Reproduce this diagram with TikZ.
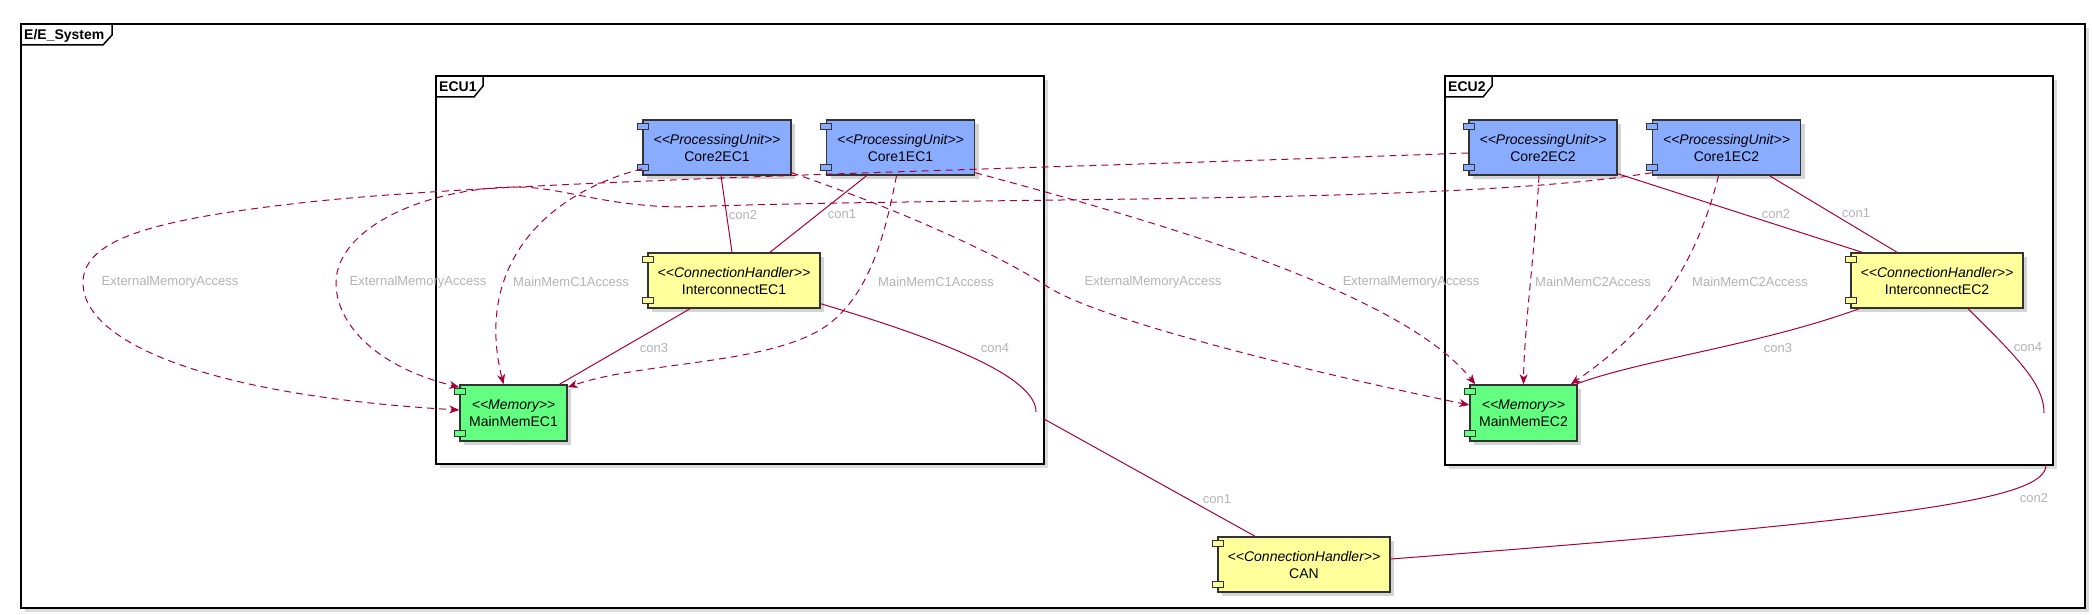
\documentclass[tikz,border=0pt]{standalone}
\usepackage{fontspec}
\setmainfont{Liberation Sans}
\usepackage{xcolor}
\usetikzlibrary{arrows.meta,positioning,shadows}

\definecolor{puBlue}{HTML}{8AACFF}
\definecolor{memGreen}{HTML}{62FF80}
\definecolor{chYellow}{HTML}{FFFF9C}
\definecolor{linkRed}{HTML}{A80036}
\definecolor{lblGray}{HTML}{B4B4B4}
\definecolor{boxLine}{HTML}{333333}

\newcommand\stereo[1]{\textit{<\kern0pt<#1>\kern0pt>}}
\newcommand\porttabs[2]{%
  \draw[porttab, fill=#2] ([shift={(-5,4)}]#1.north west) rectangle ++(11,6);
  \draw[porttab, fill=#2] ([shift={(-5,-5)}]#1.south west) rectangle ++(11,-6);}

\begin{document}
\begin{tikzpicture}[x=1pt, y=-1pt,
  cmp/.style={draw=boxLine, line width=1.5pt, minimum height=55pt, align=center, inner sep=2pt,
    font=\fontsize{14}{17}\selectfont,
    drop shadow={shadow xshift=4pt, shadow yshift=-4pt, opacity=.3, fill=black!55}},
  pu/.style={cmp, fill=puBlue, minimum width=148pt},
  mem/.style={cmp, fill=memGreen, minimum width=107pt, minimum height=56pt},
  ch/.style={cmp, fill=chYellow, minimum width=172pt},
  porttab/.style={draw=boxLine, line width=1.2pt},
  frm/.style={draw=black, line width=2pt, fill=white,
    drop shadow={shadow xshift=4pt, shadow yshift=-4pt, opacity=.25, fill=black!55}},
  tabline/.style={draw=black, line width=1.5pt},
  ttl/.style={anchor=base west, inner sep=0pt, font=\fontsize{14}{17}\selectfont\bfseries},
  lnk/.style={draw=linkRed, line width=1pt},
  dep/.style={lnk, dash pattern=on 7pt off 5pt, -{Stealth[length=10pt,width=8pt,inset=3pt]}},
  lbl/.style={inner sep=1pt, text=lblGray, font=\fontsize{13}{15}\selectfont}
]
\useasboundingbox (0,0) rectangle (2092,615);

% frames
\draw[frm] (21,24) rectangle (2085,608);
\draw[tabline] (21,24) -- (112,24) -- (112,35) -- (103,45) -- (21,45);
\node[ttl] (tSys) at (24,40) {E/E\_System};

\draw[frm] (436,76) rectangle (1044,464);
\draw[tabline] (436,76) -- (483,76) -- (483,86) -- (474,97) -- (436,97);
\node[ttl] (tEcu1) at (439,92) {ECU1};

\draw[frm] (1445,76) rectangle (2053,465);
\draw[tabline] (1445,76) -- (1492,76) -- (1492,86) -- (1483,97) -- (1445,97);
\node[ttl] (tEcu2) at (1448,92) {ECU2};

% components
\node[pu] (core2ec1) at (717,147.5) {\stereo{ProcessingUnit}\\Core2EC1};
\node[pu, right=34pt of core2ec1] (core1ec1) {\stereo{ProcessingUnit}\\Core1EC1};
\node[ch] (ic1) at (734,280.5) {\stereo{ConnectionHandler}\\InterconnectEC1};
\node[mem] (mem1) at (513.5,413) {\stereo{Memory}\\MainMemEC1};

\node[pu] (core2ec2) at (1543,147.5) {\stereo{ProcessingUnit}\\Core2EC2};
\node[pu, right=34pt of core2ec2] (core1ec2) {\stereo{ProcessingUnit}\\Core1EC2};
\node[ch] (ic2) at (1937,280.5) {\stereo{ConnectionHandler}\\InterconnectEC2};
\node[mem] (mem2) at (1523.5,413) {\stereo{Memory}\\MainMemEC2};

\node[ch] (can) at (1304,564.5) {\stereo{ConnectionHandler}\\CAN};

\porttabs{core2ec1}{puBlue}
\porttabs{core1ec1}{puBlue}
\porttabs{core2ec2}{puBlue}
\porttabs{core1ec2}{puBlue}
\porttabs{ic1}{chYellow}
\porttabs{ic2}{chYellow}
\porttabs{can}{chYellow}
\porttabs{mem1}{memGreen}
\porttabs{mem2}{memGreen}

% open ends at the ECU borders
\coordinate (ic1stub) at (1036,412);
\coordinate (ecu1port) at (1044,419);
\coordinate (ic2stub) at (2044,413);
\coordinate (ecu2port) at (2046,465);

% links
\draw[lnk] ([xshift=4pt]core2ec1.south) -- ([xshift=-2pt]ic1.north) node[lbl] (lc2a) at (743,215) {con2};
\draw[lnk] ([xshift=-34pt]core1ec1.south) -- ([xshift=36pt]ic1.north) node[lbl] (lc1a) at (842,214) {con1};
\draw[lnk] ([xshift=-44pt]ic1.south) -- ([xshift=46pt]mem1.north) node[lbl] (lc3a) at (654,348) {con3};
\draw[lnk] ([yshift=5pt]ic1.south east) .. controls (960,345) and (1036,380) .. (ic1stub) node[lbl] (lc4a) at (995,348) {con4};
\draw[lnk] (ecu1port) -- ([xshift=-49pt]can.north) node[lbl] (lc1c) at (1217,499) {con1};

\draw[lnk] ([yshift=2pt]core2ec2.south east) -- ([xshift=-75pt]ic2.north) node[lbl] (lc2b) at (1776,214) {con2};
\draw[lnk] ([xshift=43pt]core1ec2.south) -- ([xshift=-40pt]ic2.north) node[lbl] (lc1b) at (1856,213) {con1};
\draw[lnk] ([xshift=-78pt]ic2.south) .. controls (1760,345) and (1640,360) .. ([xshift=-2pt]mem2.north east) node[lbl] (lc3b) at (1778,348) {con3};
\draw[lnk] ([xshift=31pt]ic2.south) .. controls (2020,360) and (2044,385) .. (ic2stub) node[lbl] (lc4b) at (2028,347) {con4};
\draw[lnk] (ecu2port) .. controls (2046,500) and (1900,520) .. ([yshift=5.5pt]can.east) node[lbl] (lc2c) at (2034,498) {con2};

% memory accesses
\draw[dep] ([yshift=7pt]core2ec1.south west) .. controls (540,195) and (475,270) .. ([xshift=-10pt]mem1.north)
  node[lbl] (lm1a) at (571,282) {MainMemC1Access};
\draw[dep] ([xshift=-4pt]core1ec1.south) .. controls (886,230) and (870,300) .. (820,330)
  .. controls (760,365) and (640,362) .. ([yshift=-3pt]mem1.north east)
  node[lbl] (lm1b) at (936,282) {MainMemC1Access};
\draw[dep] ([yshift=3pt]core2ec1.south east) .. controls (900,210) and (1000,255) .. (1048,287)
  .. controls (1100,320) and (1300,370) .. ([yshift=8pt]mem2.west)
  node[lbl] (lx2a) at (1153,282) {ExternalMemoryAccess};
\draw[dep] ([yshift=3pt]core1ec1.south east) .. controls (1150,220) and (1400,290) .. ([xshift=6pt]mem2.north west)
  node[lbl] (lx2b) at (1411,282) {ExternalMemoryAccess};
\draw[dep] ([yshift=-5.5pt]core2ec2.west) .. controls (1000,170) and (500,180) .. (300,203)
  .. controls (150,220) and (83,240) .. (83,283)
  .. controls (83,340) and (200,395) .. ([yshift=3pt]mem1.west)
  node[lbl] (lx1a) at (170,282) {ExternalMemoryAccess};
\draw[dep] ([yshift=3pt]core1ec2.south west) .. controls (1450,205) and (1000,196) .. (680,207)
  .. controls (600,206) and (560,186) .. (513,187)
  .. controls (420,189) and (336,230) .. (336,283)
  .. controls (336,320) and (370,365) .. ([yshift=-3pt]mem1.north west)
  node[lbl] (lx1b) at (418,282) {ExternalMemoryAccess};
\draw[dep] ([xshift=-4pt]core2ec2.south) .. controls (1535,250) and (1524,330) .. (mem2.north)
  node[lbl] (lm2a) at (1593,282) {MainMemC2Access};
\draw[dep] ([xshift=-8pt]core1ec2.south) .. controls (1695,270) and (1650,330) .. ([xshift=-7pt]mem2.north east)
  node[lbl] (lm2b) at (1750,282) {MainMemC2Access};
\end{tikzpicture}
\end{document}
